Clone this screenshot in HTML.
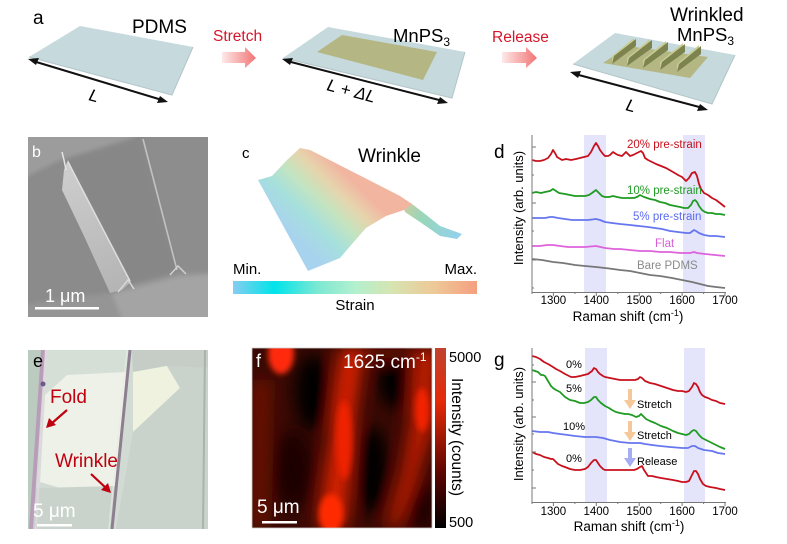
<!DOCTYPE html>
<html><head><meta charset="utf-8"><style>
html,body{margin:0;padding:0;background:#fff;}
svg{display:block;}
text{font-family:"Liberation Sans",Arial,sans-serif;}
</style></head><body>
<svg width="787" height="544" viewBox="0 0 787 544" xmlns="http://www.w3.org/2000/svg">
<defs>
<linearGradient id="pink" x1="0" y1="0" x2="1" y2="0"><stop offset="0" stop-color="#fde9e9"/><stop offset="1" stop-color="#f27474"/></linearGradient>
<linearGradient id="cbar" x1="0" y1="0" x2="1" y2="0">
<stop offset="0" stop-color="#86cdee"/><stop offset="0.17" stop-color="#00e4ea"/><stop offset="0.35" stop-color="#7ee8d2"/><stop offset="0.5" stop-color="#b2f0cf"/><stop offset="0.65" stop-color="#d6e5b2"/><stop offset="0.83" stop-color="#eec896"/><stop offset="1" stop-color="#f59f80"/></linearGradient>
<linearGradient id="wr1" gradientUnits="userSpaceOnUse" x1="285" y1="228" x2="342" y2="170">
<stop offset="0" stop-color="#a8d3ee"/><stop offset="0.3" stop-color="#a6e0dc"/><stop offset="0.55" stop-color="#c4e4c0"/><stop offset="0.78" stop-color="#e6d4ac"/><stop offset="1" stop-color="#f2b5a0"/></linearGradient>
<linearGradient id="wr2" gradientUnits="userSpaceOnUse" x1="402" y1="200" x2="460" y2="236">
<stop offset="0" stop-color="#d9c9a0"/><stop offset="0.35" stop-color="#9ad6b6"/><stop offset="1" stop-color="#92d2ec"/></linearGradient>
<linearGradient id="fbar" x1="0" y1="0" x2="0" y2="1">
<stop offset="0" stop-color="#c0432e"/><stop offset="0.3" stop-color="#e42a08"/><stop offset="0.7" stop-color="#5a0500"/><stop offset="1" stop-color="#000"/></linearGradient>
<linearGradient id="fin" gradientUnits="userSpaceOnUse" x1="65" y1="170" x2="120" y2="290"><stop offset="0" stop-color="#cdcdcd"/><stop offset="1" stop-color="#b4b4b4"/></linearGradient>
<filter id="blur8" x="-50%" y="-50%" width="200%" height="200%"><feGaussianBlur stdDeviation="8"/></filter>
<filter id="blur3" x="-50%" y="-50%" width="200%" height="200%"><feGaussianBlur stdDeviation="3"/></filter>
<filter id="blur2" x="-50%" y="-50%" width="200%" height="200%"><feGaussianBlur stdDeviation="2"/></filter>
<clipPath id="clipf"><rect x="252" y="348" width="180" height="180"/></clipPath>
<clipPath id="clipb"><rect x="28" y="137" width="180" height="180"/></clipPath>
<clipPath id="clipe"><rect x="28" y="350" width="180" height="179"/></clipPath>
</defs>
<rect width="787" height="544" fill="#fff"/>

<!-- ===== Panel a ===== -->
<text x="33" y="24" font-size="19">a</text>
<polygon points="29,57 80,26 193,47 172,95" fill="#c6d9dc"/>
<polyline points="29,57 172,95 193,47" fill="none" stroke="#b2c6ca" stroke-width="1"/>
<text x="132" y="33" font-size="19">PDMS</text>
<line x1="33" y1="61" x2="162" y2="100" stroke="#111" stroke-width="2"/>
<polygon points="28,59 39,58 36,65" fill="#111"/>
<polygon points="168,102 157,103 160,96" fill="#111"/>
<text transform="translate(88,100) rotate(15)" font-size="17" font-style="italic">L</text>

<text x="213" y="41" font-size="15.5" fill="#d6162a">Stretch</text>
<polygon points="222,52 245,52 245,47 256,58 245,68 245,63 222,63" fill="url(#pink)"/>

<polygon points="283,58 328,27 465,52 452,98" fill="#c6d9dc"/>
<polyline points="283,58 452,98 465,52" fill="none" stroke="#b2c6ca" stroke-width="1"/>
<polygon points="317,52 342,35 437,52 423,80" fill="#b4b783"/>
<text x="393" y="42" font-size="18.5">MnPS<tspan font-size="12" dy="4">3</tspan></text>
<line x1="287" y1="61" x2="443" y2="101" stroke="#111" stroke-width="2"/>
<polygon points="282,59 293,58 290,65" fill="#111"/>
<polygon points="448,103 437,104 440,97" fill="#111"/>
<text transform="translate(326,90) rotate(15)" font-size="17" font-style="italic">L + ΔL</text>

<text x="492" y="42" font-size="15.5" fill="#d6162a">Release</text>
<polygon points="502,52 526,52 526,47 537,58 526,68 526,63 502,63" fill="url(#pink)"/>

<polygon points="573,64 615,33 735,55 712,104" fill="#c6d9dc"/>
<polyline points="573,64 712,104 735,55" fill="none" stroke="#b2c6ca" stroke-width="1"/>
<polygon points="603,63 628,46 708,57 690,78" fill="#b4b783"/>
<g>
<polygon points="612,64 612,56 634,38 634,46" fill="#c9cc92"/><polygon points="612,64 614,56 636,39 636,46" fill="#7c834e"/>
<polygon points="627,66 627,58 650,39 650,48" fill="#c9cc92"/><polygon points="627,66 629,58 652,40 652,48" fill="#7c834e"/>
<polygon points="643,68 643,60 666,41 666,50" fill="#c9cc92"/><polygon points="643,68 645,60 668,42 668,50" fill="#7c834e"/>
<polygon points="660,70 660,62 683,43 683,52" fill="#c9cc92"/><polygon points="660,70 662,62 685,44 685,52" fill="#7c834e"/>
<polygon points="677,72 677,64 699,45 699,54" fill="#c9cc92"/><polygon points="677,72 679,64 701,46 701,54" fill="#7c834e"/>
</g>
<text x="670" y="21" font-size="19">Wrinkled</text>
<text x="677" y="41" font-size="18.5">MnPS<tspan font-size="12" dy="4">3</tspan></text>
<line x1="575" y1="74" x2="703" y2="108" stroke="#111" stroke-width="2"/>
<polygon points="570,72 581,71 578,78" fill="#111"/>
<polygon points="708,110 697,111 700,104" fill="#111"/>
<text transform="translate(625,110) rotate(15)" font-size="17" font-style="italic">L</text>

<!-- ===== Panel b (SEM) ===== -->
<g clip-path="url(#clipb)">
<rect x="28" y="137" width="180" height="180" fill="#8b8b8b"/>
<g filter="url(#blur2)">
<polygon points="20,130 135,130 135,137 60,160 20,180" fill="#9c9c9c"/>
<polygon points="143,130 215,130 215,272 178,272" fill="#8d8d8d"/>
<polygon points="66,160 140,137 177,272 130,285" fill="#878787"/>
<polygon points="20,305 110,293 130,285 178,273 215,272 215,325 20,325" fill="#959595"/>
<polygon points="112,294 178,277 215,274 215,325 125,325" fill="#a4a4a4"/>
</g>
<polygon points="62,190 64,170 68,160 101,225 131,282 122,290 110,293 84,236" fill="url(#fin)"/>
<polyline points="62,152 64,160 66,170" fill="none" stroke="#e4e4e4" stroke-width="1.5"/>
<line x1="68" y1="162" x2="130" y2="281" stroke="#dedede" stroke-width="1.5"/>
<line x1="143" y1="139" x2="177" y2="270" stroke="#c2c2c2" stroke-width="1.6"/>
<polyline points="170,275 178,266 186,274" fill="none" stroke="#d0d0d0" stroke-width="1.5"/>
<polyline points="118,292 128,280 134,289" fill="none" stroke="#d8d8d8" stroke-width="1.5"/>
</g>
<text x="32" y="157" font-size="16" fill="#fff">b</text>
<text x="45" y="302" font-size="18" fill="#fff">1 μm</text>
<rect x="35" y="307" width="64" height="2.5" fill="#fff"/>

<!-- ===== Panel c ===== -->
<text x="242" y="158" font-size="15">c</text>
<polygon points="400,198 412,204 425,214 440,226 462,234 457,239 440,236 420,222 405,212" fill="url(#wr2)"/>
<polygon points="258,180 272,176 287,160 300,148 310,150 400,196 412,204 404,210 386,216 366,228 352,244 340,258 308,271" fill="url(#wr1)"/>
<text x="358" y="162" font-size="19">Wrinkle</text>
<text x="233" y="274" font-size="15">Min.</text>
<text x="477" y="274" font-size="15" text-anchor="end">Max.</text>
<rect x="233" y="281" width="244" height="13" fill="url(#cbar)"/>
<text x="355" y="310" font-size="15" text-anchor="middle">Strain</text>

<!-- ===== Panel d ===== -->
<rect x="584" y="135" width="22" height="157" fill="#e4e4fa"/>
<rect x="683" y="135" width="22" height="157" fill="#e4e4fa"/>
<text x="494" y="158" font-size="19">d</text>
<g fill="none" stroke-width="1.8" stroke-linejoin="round">
<polyline stroke="#c8101c" points="532,160 536,161 540,161 544,160 548,158 551,154 553,150 555,153 557,157 562,160 566,159 571,160 576,159 580,158 584,157 588,156 591,152 594,146 596,143 598,146 600,150 603,154 605,156 608,156 610,155 613,152 616,154 618,155 622,156 624,154 626,152 628,154 630,156 633,155 635,154 639,152 641,151 643,153 645,158 648,160 652,162 656,164 661,166 666,168 673,172 678,175 682,177 686,181 689,178 692,173 695,172 697,176 699,184 701,189 704,193 708,195 712,198 716,200 720,203 725,207"/>
<polyline stroke="#1f9b22" points="532,193 536,192 541,193 545,192 550,191 553,189 556,191 559,193 565,194 570,195 575,196 580,196 585,196 589,195 592,193 596,190 599,193 602,196 605,197 609,197 613,196 617,197 622,198 626,198 630,198 634,198 637,197 640,195 642,196 644,197 650,199 655,200 660,202 665,203 670,205 675,206 680,207 684,208 688,208 691,205 693,201 695,200 697,202 699,206 702,210 705,212 708,213 712,213 716,214 720,214 725,215"/>
<polyline stroke="#6676ee" points="532,218 538,218 545,218 550,217 553,217 558,218 565,219 572,220 580,220 588,220 596,219 600,220 605,222 612,223 620,224 630,225 639,226 648,227 655,228 662,229 670,231 678,232 686,233 690,233 694,230 696,231 699,233 704,235 710,236 716,236 725,237"/>
<polyline stroke="#de62dc" points="532,246 540,246 547,245 553,245 560,246 568,247 575,247 585,247 596,246 605,248 614,249 620,249 630,250 640,251 650,251 660,252 670,252 680,253 690,253 694,252 697,253 705,254 715,255 725,256"/>
<polyline stroke="#777" points="532,259 542,260 553,262 563,263 575,265 585,266 596,267 605,268 613,269 620,270 630,271 640,273 650,275 660,276 672,278 682,280 692,282 700,284 708,286 716,287 725,288"/>
</g>
<g font-size="11.5">
<text x="627" y="148" fill="#c8101c">20% pre-strain</text>
<text x="627" y="194" fill="#1f9b22">10% pre-strain</text>
<text x="633" y="220" fill="#5a6af0">5% pre-strain</text>
<text x="655" y="247" fill="#d65fd6">Flat</text>
<text x="637" y="269" fill="#8a8a8a">Bare PDMS</text>
</g>
<g stroke="#777" stroke-width="1" fill="none">
<polyline points="532,135 532,292.5 726,292.5"/>
<path d="M553.4,292 v4 M596.3,292 v4 M639.2,292 v4 M682.1,292 v4 M725,292 v4 M574.9,292 v2 M617.8,292 v2 M660.7,292 v2 M703.6,292 v2 M532,292 v2"/>
<path d="M532,147 h4 M532,203 h4 M532,260 h4 M532,175 h2 M532,231 h2 M532,288 h2"/>
</g>
<g font-size="11.5" text-anchor="middle">
<text x="553.4" y="304">1300</text><text x="596.3" y="304">1400</text><text x="639.2" y="304">1500</text><text x="682.1" y="304">1600</text><text x="725" y="304">1700</text>
</g>
<text x="628" y="321" font-size="13.5" text-anchor="middle">Raman shift (cm<tspan font-size="9" dy="-5">-1</tspan><tspan dy="5">)</tspan></text>
<text transform="translate(523,208) rotate(-90)" font-size="13" text-anchor="middle">Intensity (arb. units)</text>

<!-- ===== Panel e (optical) ===== -->
<g clip-path="url(#clipe)">
<rect x="28" y="350" width="180" height="179" fill="#d2dbd3"/>
<polygon points="28,350 44,350 33,529 28,529" fill="#bccbc0"/>
<polygon points="46,350 130,350 128,375 67,375 45,395" fill="#d6dfd6"/>
<polygon points="45,395 67,375 126,372 118,486 60,488 40,482" fill="#edf1e7"/>
<polygon points="36,488 118,486 112,529 30,529" fill="#c9d3cc"/>
<polygon points="132,350 208,350 208,368 165,366 133,372" fill="#c5cdc6"/>
<polygon points="133,372 167,366 180,388 133,432" fill="#f0f2e0"/>
<polygon points="167,366 208,368 208,529 116,529 133,432 180,388" fill="#c9d3cc"/>
<line x1="43" y1="350" x2="31" y2="529" stroke="#b892b8" stroke-width="4" opacity="0.8"/>
<line x1="46" y1="350" x2="36" y2="529" stroke="#e7d8e6" stroke-width="2" opacity="0.7"/>
<circle cx="43" cy="384" r="2.5" fill="#6a5a8a"/>
<line x1="130" y1="350" x2="112" y2="529" stroke="#8d7f8f" stroke-width="3"/>
<line x1="127" y1="350" x2="109" y2="529" stroke="#e8ece4" stroke-width="1.5" opacity="0.7"/>
<line x1="205" y1="350" x2="203" y2="529" stroke="#a9b3ab" stroke-width="2"/>
</g>
<text x="33" y="367" font-size="18">e</text>
<text x="50" y="403" font-size="19" fill="#c00010">Fold</text>
<line x1="67" y1="410" x2="51" y2="424" stroke="#c00010" stroke-width="2.2"/>
<polygon points="46,428 49,418 56,425" fill="#c00010"/>
<text x="55" y="467" font-size="19" fill="#c00010">Wrinkle</text>
<line x1="91" y1="474" x2="106" y2="488" stroke="#c00010" stroke-width="2.2"/>
<polygon points="111,493 101,490 108,483" fill="#c00010"/>
<text x="33" y="517" font-size="19" fill="#fff">5 μm</text>
<rect x="37" y="524" width="35" height="2.5" fill="#fff"/>

<!-- ===== Panel f (map) ===== -->
<g clip-path="url(#clipf)">
<rect x="252" y="348" width="180" height="180" fill="#3a0903"/>
<g filter="url(#blur8)">
<ellipse cx="313" cy="392" rx="18" ry="38" fill="#000"/>
<ellipse cx="398" cy="380" rx="20" ry="30" fill="#000"/>
<ellipse cx="372" cy="470" rx="16" ry="45" fill="#050000"/>
<ellipse cx="293" cy="470" rx="20" ry="40" fill="#1a0200"/>
<ellipse cx="420" cy="505" rx="14" ry="25" fill="#1a0200"/>
<polygon points="252,380 270,380 266,528 252,528" fill="#701200"/>
<polygon points="340,348 364,348 352,440 346,528 318,528 330,440" fill="#d82006"/>
<polygon points="414,348 438,348 436,420 420,470 398,528 386,528 402,470 410,420" fill="#b81a02"/>
<polygon points="360,348 410,348 400,360 370,360" fill="#6a1004"/>
</g>
<g filter="url(#blur3)">
<ellipse cx="281" cy="354" rx="13" ry="20" fill="#ff2a08"/>
<ellipse cx="331" cy="514" rx="12" ry="20" fill="#ff2a06"/>
<ellipse cx="422" cy="410" rx="7" ry="22" fill="#f22204"/>
<ellipse cx="344" cy="440" rx="8" ry="40" fill="#ee2206"/>
</g>
</g>
<rect x="252" y="348" width="180" height="180" fill="none" stroke="#ccc" stroke-width="0.8"/>
<text x="256" y="367" font-size="18" fill="#fff">f</text>
<text x="343" y="368" font-size="19" fill="#fff">1625 cm<tspan font-size="12" dy="-7">-1</tspan></text>
<text x="257" y="513" font-size="19" fill="#fff">5 μm</text>
<rect x="262" y="521" width="35" height="2.5" fill="#fff"/>
<rect x="435" y="348" width="11" height="180" fill="url(#fbar)"/>
<text x="449" y="362" font-size="14.5">5000</text>
<text x="449" y="527" font-size="14.5">500</text>
<text transform="translate(452,437) rotate(90)" font-size="15.5" text-anchor="middle">Intensity (counts)</text>

<!-- ===== Panel g ===== -->
<rect x="585" y="348" width="22" height="154" fill="#e4e4fa"/>
<rect x="684" y="348" width="21" height="154" fill="#e4e4fa"/>
<text x="494" y="366" font-size="19">g</text>
<g fill="none" stroke-width="1.8" stroke-linejoin="round">
<polyline stroke="#c8101c" points="532,356 536,357 540,359 544,362 548,364 553,367 556,369 560,371 565,374 571,377 575,377 580,376 584,375 588,374 592,371 594,368 596,369 598,372 600,374 603,376 605,377 610,378 615,379 620,380 625,380 630,380 635,380 638,379 640,377 642,378 645,381 650,383 655,384 661,386 667,388 673,390 678,391 682,391 686,392 689,391 692,387 694,383 696,384 698,387 700,392 702,395 705,397 708,398 712,400 716,401 720,403 725,404"/>
<polyline stroke="#1f9b22" points="532,370 535,371 538,372 541,375 543,375 545,376 548,381 551,386 553,388 556,390 560,392 565,397 570,400 575,401 580,403 584,403 588,402 591,400 594,397 596,397 598,400 601,403 605,406 609,408 612,410 616,412 620,413 625,414 628,414 632,415 636,417 639,416 641,414 643,416 646,419 650,421 655,423 661,426 667,428 673,431 678,433 682,434 686,435 689,434 692,431 694,430 696,431 699,435 702,438 706,440 710,442 716,445 720,447 725,449"/>
<polyline stroke="#6676ee" points="532,431 540,432 548,432 553,433 560,434 568,435 575,436 585,437 596,437 603,438 610,440 620,442 630,443 640,443 645,444 652,445 660,446 670,447 682,448 688,448 692,446 695,446 698,448 704,450 712,451 718,453 725,454"/>
<polyline stroke="#c8101c" points="532,452 536,454 540,455 544,457 548,458 551,459 553,459 556,462 558,464 562,466 565,467 570,469 575,470 580,470 585,469 588,467 591,463 594,460 596,460 598,463 600,466 603,469 605,470 610,470 615,470 620,470 625,470 630,470 634,470 637,469 640,467 642,466 644,470 646,473 648,476 652,476 656,477 661,478 667,479 673,480 678,481 682,482 686,482 689,481 692,475 694,471 696,471 698,474 700,479 703,484 706,486 710,487 716,488 720,489 725,490"/>
</g>
<g font-size="11">
<text x="566" y="368">0%</text>
<text x="566" y="392">5%</text>
<text x="563" y="430">10%</text>
<text x="566" y="462">0%</text>
<text x="637" y="408">Stretch</text>
<text x="637" y="439">Stretch</text>
<text x="637" y="465">Release</text>
</g>
<g>
<rect x="628" y="389" width="4" height="12" fill="#f5c89a"/><polygon points="624,400 636,400 630,409" fill="#f5c89a"/>
<rect x="628" y="421" width="4" height="12" fill="#f5c89a"/><polygon points="624,432 636,432 630,441" fill="#f5c89a"/>
<rect x="628" y="448" width="4" height="11" fill="#a7adf2"/><polygon points="624,458 636,458 630,467" fill="#a7adf2"/>
</g>
<g stroke="#777" stroke-width="1" fill="none">
<polyline points="532,348 532,502.5 726,502.5"/>
<path d="M553.4,502 v4 M596.3,502 v4 M639.2,502 v4 M682.1,502 v4 M725,502 v4 M574.9,502 v2 M617.8,502 v2 M660.7,502 v2 M703.6,502 v2 M532,502 v2"/>
<path d="M532,382 h4 M532,417 h4 M532,452 h4 M532,488 h4 M532,365 h2 M532,400 h2 M532,434 h2 M532,470 h2"/>
</g>
<g font-size="11.5" text-anchor="middle">
<text x="553.4" y="515">1300</text><text x="596.3" y="515">1400</text><text x="639.2" y="515">1500</text><text x="682.1" y="515">1600</text><text x="725" y="515">1700</text>
</g>
<text x="629" y="531" font-size="13.5" text-anchor="middle">Raman shift (cm<tspan font-size="9" dy="-5">-1</tspan><tspan dy="5">)</tspan></text>
<text transform="translate(523,424) rotate(-90)" font-size="13" text-anchor="middle">Intensity (arb. units)</text>
</svg>
</body></html>
